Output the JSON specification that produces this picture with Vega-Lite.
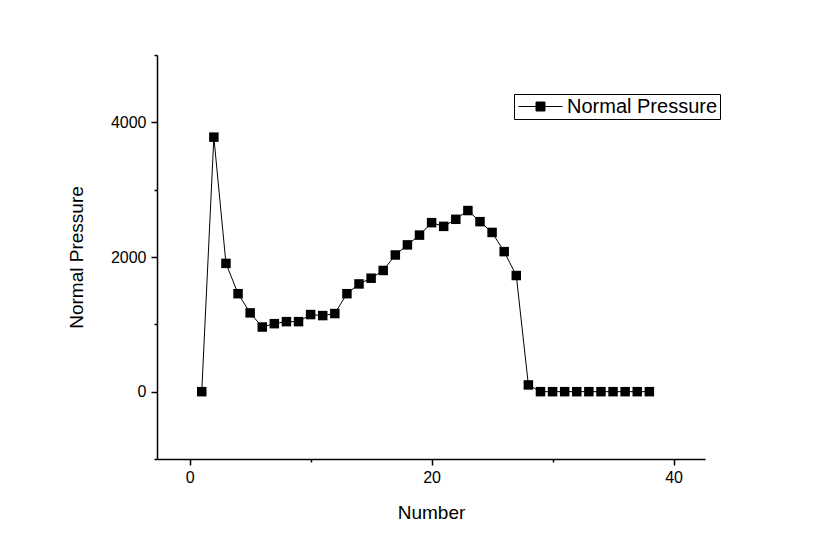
{
  "$schema": "https://vega.github.io/schema/vega-lite/v6.json",
  "width": 548,
  "height": 404,
  "autosize": "none",
  "padding": {"left": 157, "top": 55, "right": 109, "bottom": 75},
  "background": "white",
  "config": {
    "view": {"stroke": null},
    "font": "Liberation Sans",
    "axis": {"grid": false, "domainColor": "black", "domainWidth": 1.5, "tickColor": "black", "tickWidth": 1.5, "labelColor": "black", "titleColor": "black", "labelFont": "Liberation Sans", "titleFont": "Liberation Sans", "labelFontSize": 16, "titleFontSize": 19, "titleFontWeight": "normal"}
  },
  "data": {
    "values": [
      {"n": 1, "p": 0, "series": "Normal Pressure"},
      {"n": 2, "p": 3780, "series": "Normal Pressure"},
      {"n": 3, "p": 1905, "series": "Normal Pressure"},
      {"n": 4, "p": 1455, "series": "Normal Pressure"},
      {"n": 5, "p": 1170, "series": "Normal Pressure"},
      {"n": 6, "p": 960, "series": "Normal Pressure"},
      {"n": 7, "p": 1010, "series": "Normal Pressure"},
      {"n": 8, "p": 1040, "series": "Normal Pressure"},
      {"n": 9, "p": 1040, "series": "Normal Pressure"},
      {"n": 10, "p": 1145, "series": "Normal Pressure"},
      {"n": 11, "p": 1130, "series": "Normal Pressure"},
      {"n": 12, "p": 1160, "series": "Normal Pressure"},
      {"n": 13, "p": 1455, "series": "Normal Pressure"},
      {"n": 14, "p": 1600, "series": "Normal Pressure"},
      {"n": 15, "p": 1685, "series": "Normal Pressure"},
      {"n": 16, "p": 1800, "series": "Normal Pressure"},
      {"n": 17, "p": 2030, "series": "Normal Pressure"},
      {"n": 18, "p": 2180, "series": "Normal Pressure"},
      {"n": 19, "p": 2325, "series": "Normal Pressure"},
      {"n": 20, "p": 2510, "series": "Normal Pressure"},
      {"n": 21, "p": 2455, "series": "Normal Pressure"},
      {"n": 22, "p": 2560, "series": "Normal Pressure"},
      {"n": 23, "p": 2690, "series": "Normal Pressure"},
      {"n": 24, "p": 2525, "series": "Normal Pressure"},
      {"n": 25, "p": 2365, "series": "Normal Pressure"},
      {"n": 26, "p": 2080, "series": "Normal Pressure"},
      {"n": 27, "p": 1725, "series": "Normal Pressure"},
      {"n": 28, "p": 100, "series": "Normal Pressure"},
      {"n": 29, "p": 0, "series": "Normal Pressure"},
      {"n": 30, "p": 0, "series": "Normal Pressure"},
      {"n": 31, "p": 0, "series": "Normal Pressure"},
      {"n": 32, "p": 0, "series": "Normal Pressure"},
      {"n": 33, "p": 0, "series": "Normal Pressure"},
      {"n": 34, "p": 0, "series": "Normal Pressure"},
      {"n": 35, "p": 0, "series": "Normal Pressure"},
      {"n": 36, "p": 0, "series": "Normal Pressure"},
      {"n": 37, "p": 0, "series": "Normal Pressure"},
      {"n": 38, "p": 0, "series": "Normal Pressure"}
    ]
  },
  "encoding": {
    "x": {
      "field": "n", "type": "quantitative",
      "scale": {"domain": [-2.7, 42.6], "nice": false, "zero": false},
      "axis": {
        "title": "Number",
        "values": [0, 10, 20, 30, 40],
        "labelExpr": "datum.value % 20 === 0 ? datum.label : ''",
        "tickSize": {"expr": "datum.value % 20 === 0 ? 6 : 3"},
        "labelPadding": 4,
        "titlePadding": 18
      }
    },
    "y": {
      "field": "p", "type": "quantitative",
      "scale": {"domain": [-1000, 5000], "nice": false, "zero": false},
      "axis": {
        "title": "Normal Pressure",
        "values": [-1000, 0, 1000, 2000, 3000, 4000, 5000],
        "format": "d",
        "labelExpr": "datum.value % 2000 === 0 ? datum.label : ''",
        "tickSize": {"expr": "datum.value % 2000 === 0 ? 6 : 3"},
        "labelPadding": 5,
        "titlePadding": 24
      }
    },
    "color": {
      "field": "series", "type": "nominal",
      "scale": {"range": ["black"]},
      "legend": {
        "title": null,
        "orient": "none",
        "legendX": 357,
        "legendY": 39,
        "strokeColor": "black",
        "fillColor": "white",
        "padding": 2,
        "symbolType": "M-2.2,0H-0.45M0.45,0H2.2M-0.45,-0.45H0.45V0.45H-0.45Z",
        "symbolSize": 400,
        "symbolFillColor": "black",
        "symbolStrokeColor": "black",
        "symbolStrokeWidth": 1,
        "symbolOffset": 14,
        "labelOffset": 16,
        "labelFontSize": 20,
        "labelFont": "Liberation Sans",
        "labelColor": "black"
      }
    }
  },
  "layer": [
    {"mark": {"type": "line", "strokeWidth": 1, "color": "black"}},
    {"mark": {"type": "point", "shape": "square", "filled": true, "size": 90, "opacity": 1, "color": "black"}}
  ]
}
